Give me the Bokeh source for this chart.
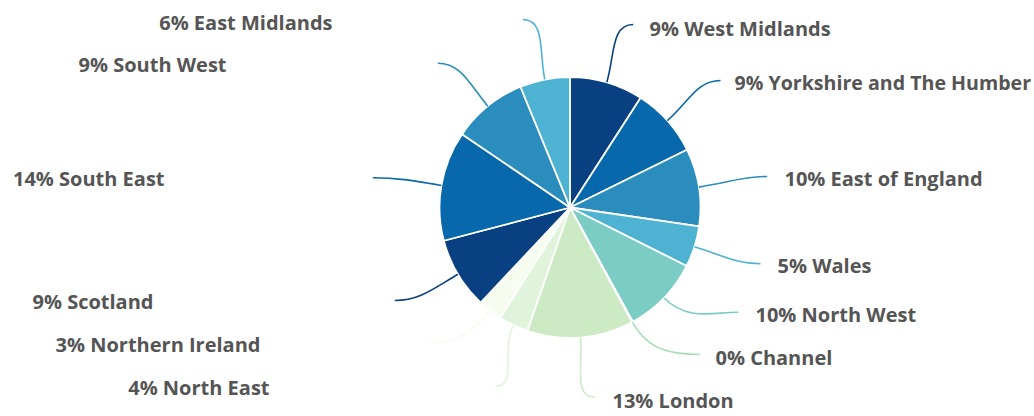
import numpy as np
from bokeh.plotting import figure
from bokeh.models import Range1d, ColumnDataSource
from bokeh.core.properties import value
from bokeh.embed import file_html
from bokeh.resources import INLINE

# ---- data ----
regions = ["West Midlands", "Yorkshire and The Humber", "East of England", "Wales",
           "North West", "Channel", "London", "North East", "Northern Ireland",
           "Scotland", "South East", "South West", "East Midlands"]
shares = [9.1, 8.6, 9.6, 5.1, 9.6, 0.1, 13.2, 3.7, 3.0, 8.9, 13.6, 9.3, 6.2]
colors = ["#084081", "#0868ac", "#2b8cbe", "#4eb3d3", "#7bccc4", "#a8ddb5",
          "#ccebc5", "#e0f3db", "#f7fcf0", "#084081", "#0868ac", "#2b8cbe", "#4eb3d3"]

# ---- layout (picture pixels) ----
line_end_x = [632.7, 720, 766.7, 760, 737.7, 699.3, 594.3, 495, 426.7, 394.3, 372.3, 437.3, 522.3]
line_end_y = [24, 80, 176, 263.3, 311.7, 354, 396.7, 385.7, 342.3, 300, 177.3, 62.7, 19]
label_x = [649, 734, 784, 777, 755, 715, 612, 269, 260, 153, 164, 226, 332]
label_y = [28, 82, 178, 265, 314, 357, 400, 387, 344, 301, 178, 64, 22]
label_size = ["20px", "19.6px", "20px", "20px", "20px", "20px", "20px",
              "20px", "20px", "20px", "20px", "20px", "20px"]

W, H = 1034, 416
CX, CY_PAGE, R = 569.5, 207.0, 130.5


def Y(y):
    return H - np.asarray(y, dtype=float)


vals = np.array(shares, dtype=float)
frac = vals / vals.sum()
theta_end = np.cumsum(frac) * 2 * np.pi          # clockwise from 12 o'clock
theta_start = theta_end - frac * 2 * np.pi
theta_mid = (theta_start + theta_end) / 2

cy = H - CY_PAGE
wedges = ColumnDataSource(dict(
    start=np.pi / 2 - theta_end,
    end=np.pi / 2 - theta_start,
    color=colors,
))

p = figure(width=W, height=H, output_backend="svg", toolbar_location=None,
           x_range=Range1d(0, W), y_range=Range1d(0, H), min_border=0)
p.axis.visible = False
p.grid.visible = False
p.outline_line_color = None
p.background_fill_color = "white"
p.border_fill_color = "white"

p.wedge(x=CX, y=cy, radius=R, start_angle="start", end_angle="end",
        fill_color="color", line_color="white", line_width=1.8, source=wedges)

# leader lines
sx = CX + R * np.sin(theta_mid)
sy = cy + R * np.cos(theta_mid)
ex = np.asarray(line_end_x, dtype=float)
ey = Y(line_end_y)
d = np.hypot(ex - sx, ey - sy)
side = np.where(ex > CX, 1.0, -1.0)
a, b = 0.45, 0.35
c0x = sx + np.sin(theta_mid) * a * d
c0y = sy + np.cos(theta_mid) * a * d
c1x = ex - side * b * d
c1y = ey
p.bezier(x0=sx, y0=sy, x1=ex, y1=ey, cx0=c0x, cy0=c0y, cx1=c1x, cy1=c1y,
         line_color=colors, line_width=1.6)

labels = [f"{round(v)}% {n}" for v, n in zip(shares, regions)]
align = ["left" if s > 0 else "right" for s in side]
lab = ColumnDataSource(dict(x=label_x, y=Y(label_y), text=labels, align=align, size=label_size))
p.text(x="x", y="y", text="text", text_align="align", text_baseline="middle",
       text_font=value("Open Sans"), text_font_style="bold", text_font_size="size",
       text_color="#555555", source=lab)

open("out.html", "w").write(file_html(p, INLINE))
